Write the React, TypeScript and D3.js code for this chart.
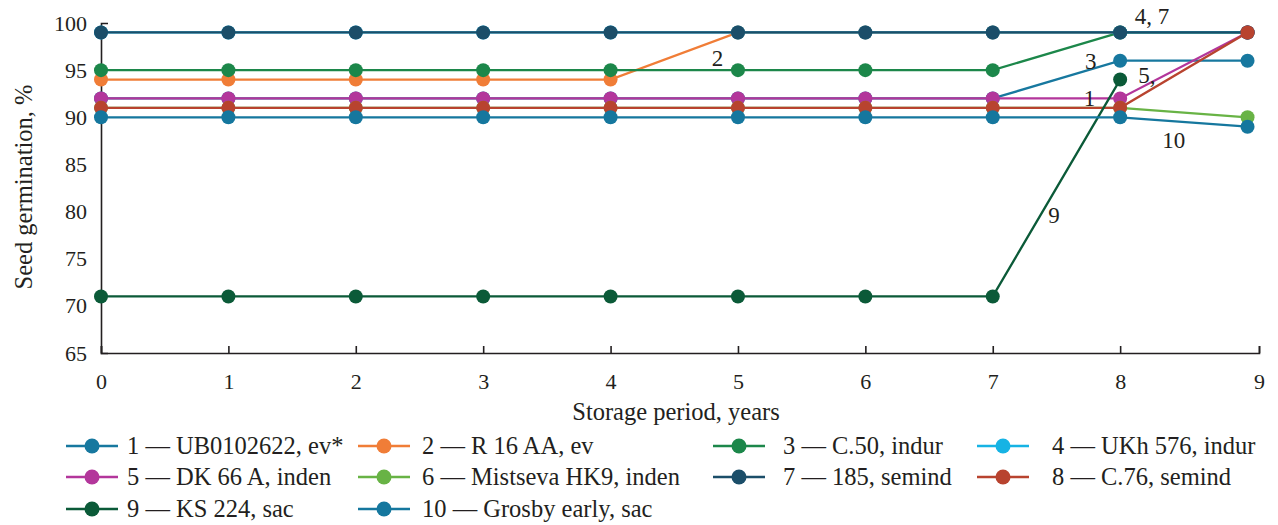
import React, { useEffect, useRef } from 'react';
import * as d3 from 'd3';

const years = [0, 1, 2, 3, 4, 5, 6, 7, 8, 9];

const seriesNames = [
  '1 — UB0102622, ev*',
  '2 — R 16 AA, ev',
  '3 — C.50, indur',
  '4 — UKh 576, indur',
  '5 — DK 66 A, inden',
  '6 — Mistseva HK9, inden',
  '7 — 185, semind',
  '8 — C.76, semind',
  '9 — KS 224, sac',
  '10 — Grosby early, sac',
];

const seriesColors = [
  '#17789f', '#f07d37', '#1c874a', '#16b3e4', '#b3369b',
  '#68b345', '#1b4e69', '#b8432f', '#0b5a38', '#15779e',
];

// germination, % (null = no value)
const s1 = [92, 92, 92, 92, 92, 92, 92, 92, 96, 96];
const s2 = [94, 94, 94, 94, 94, 99, 99, 99, 99, 99];
const s3 = [95, 95, 95, 95, 95, 95, 95, 95, 99, 99];
const s4 = [99, 99, 99, 99, 99, 99, 99, 99, 99, 99];
const s5 = [92, 92, 92, 92, 92, 92, 92, 92, 92, 99];
const s6 = [91, 91, 91, 91, 91, 91, 91, 91, 91, 90];
const s7 = [99, 99, 99, 99, 99, 99, 99, 99, 99, 99];
const s8 = [91, 91, 91, 91, 91, 91, 91, 91, 91, 99];
const s9 = [71, 71, 71, 71, 71, 71, 71, 71, 94, null];
const s10 = [90, 90, 90, 90, 90, 90, 90, 90, 90, 89];

const allSeries = [s1, s2, s3, s4, s5, s6, s7, s8, s9, s10];

// in-plot labels [text, year, value]
const notes: [string, number, number][] = [
  ['4, 7', 8.25, 100.8],
  ['2', 4.84, 96.3],
  ['3', 7.77, 96.0],
  ['5,', 8.21, 94.5],
  ['1', 7.76, 92.1],
  ['10', 8.42, 87.6],
  ['9', 7.48, 79.6],
];

const yTicks = [65, 70, 75, 80, 85, 90, 95, 100];

const FONT = '"Liberation Serif", "Times New Roman", serif';
const INK = '#231f20';

const App = () => {
  const svgRef = useRef<SVGSVGElement>(null);

  useEffect(() => {
    const W = 1278, H = 525;
    const svg = d3.select(svgRef.current).attr('width', W).attr('height', H);
    svg.selectAll('*').remove();

    // axis runs a little past the last year
    const xEnd = 9.09;
    const x = d3.scaleLinear().domain([0, xEnd]).range([101, 1259]);
    const y = d3.scaleLinear().domain([65, 100]).range([353, 23]);

    const xAxis = svg.append('g')
      .attr('transform', `translate(0,${y(65)})`)
      .call(d3.axisBottom(x)
        .tickValues([0, 1, 2, 3, 4, 5, 6, 7, 8, xEnd])
        .tickFormat(d => String(Math.round(+d)))
        .tickSizeInner(-7).tickSizeOuter(-7).tickPadding(20));
    const yAxis = svg.append('g')
      .attr('transform', `translate(${x(0)},0)`)
      .call(d3.axisLeft(y).tickValues(yTicks)
        .tickSizeInner(0).tickSizeOuter(-7).tickPadding(14));
    [xAxis, yAxis].forEach(a => {
      a.selectAll('path, line').attr('stroke', INK).attr('stroke-width', 1.6);
      a.selectAll('text').attr('font-family', FONT).attr('font-size', 22).attr('fill', INK);
    });

    const line = d3.line<number | null>()
      .defined(d => d !== null)
      .x((d, i) => x(years[i]))
      .y(d => y(d as number));

    allSeries.forEach((vals, k) => {
      const g = svg.append('g');
      g.append('path')
        .attr('d', line(vals))
        .attr('fill', 'none')
        .attr('stroke', seriesColors[k])
        .attr('stroke-width', 2.3);
      g.selectAll('circle')
        .data(vals.map((v, i) => ({ v, yr: years[i] })).filter(d => d.v !== null))
        .enter()
        .append('circle')
        .attr('cx', d => x(d.yr))
        .attr('cy', d => y(d.v as number))
        .attr('r', 7)
        .attr('fill', seriesColors[k]);
    });

    svg.selectAll('.note')
      .data(notes)
      .enter()
      .append('text')
      .attr('x', d => x(d[1]))
      .attr('y', d => y(d[2]))
      .attr('dy', '0.35em')
      .attr('text-anchor', 'middle')
      .attr('font-family', FONT)
      .attr('font-size', 23)
      .attr('fill', INK)
      .text(d => d[0]);

    svg.append('text')
      .attr('x', 676).attr('y', 420)
      .attr('text-anchor', 'middle')
      .attr('font-family', FONT).attr('font-size', 24.5).attr('fill', INK)
      .text('Storage period, years');

    svg.append('text')
      .attr('transform', 'translate(32,187) rotate(-90)')
      .attr('text-anchor', 'middle')
      .attr('font-family', FONT).attr('font-size', 24.5).attr('fill', INK)
      .text('Seed germination, %');

    // legend: 4 columns, 3 rows
    const lineX = [66, 358, 713, 977];
    const textX = [127, 422, 783, 1052];
    const rowY = [446, 477, 509];
    const legend = svg.append('g');
    seriesNames.forEach((name, k) => {
      const c = k % 4, ly = rowY[Math.floor(k / 4)];
      legend.append('line')
        .attr('x1', lineX[c]).attr('x2', lineX[c] + 52).attr('y1', ly).attr('y2', ly)
        .attr('stroke', seriesColors[k]).attr('stroke-width', 2.3);
      legend.append('circle')
        .attr('cx', lineX[c] + 26).attr('cy', ly).attr('r', 7.5)
        .attr('fill', seriesColors[k]);
      legend.append('text')
        .attr('x', textX[c]).attr('y', ly).attr('dy', '0.33em')
        .attr('font-family', FONT).attr('font-size', 24.5).attr('fill', INK)
        .text(name);
    });
  }, []);

  return <svg ref={svgRef} style={{ position: 'absolute', left: 0, top: 0 }}></svg>;
};

export default App;
